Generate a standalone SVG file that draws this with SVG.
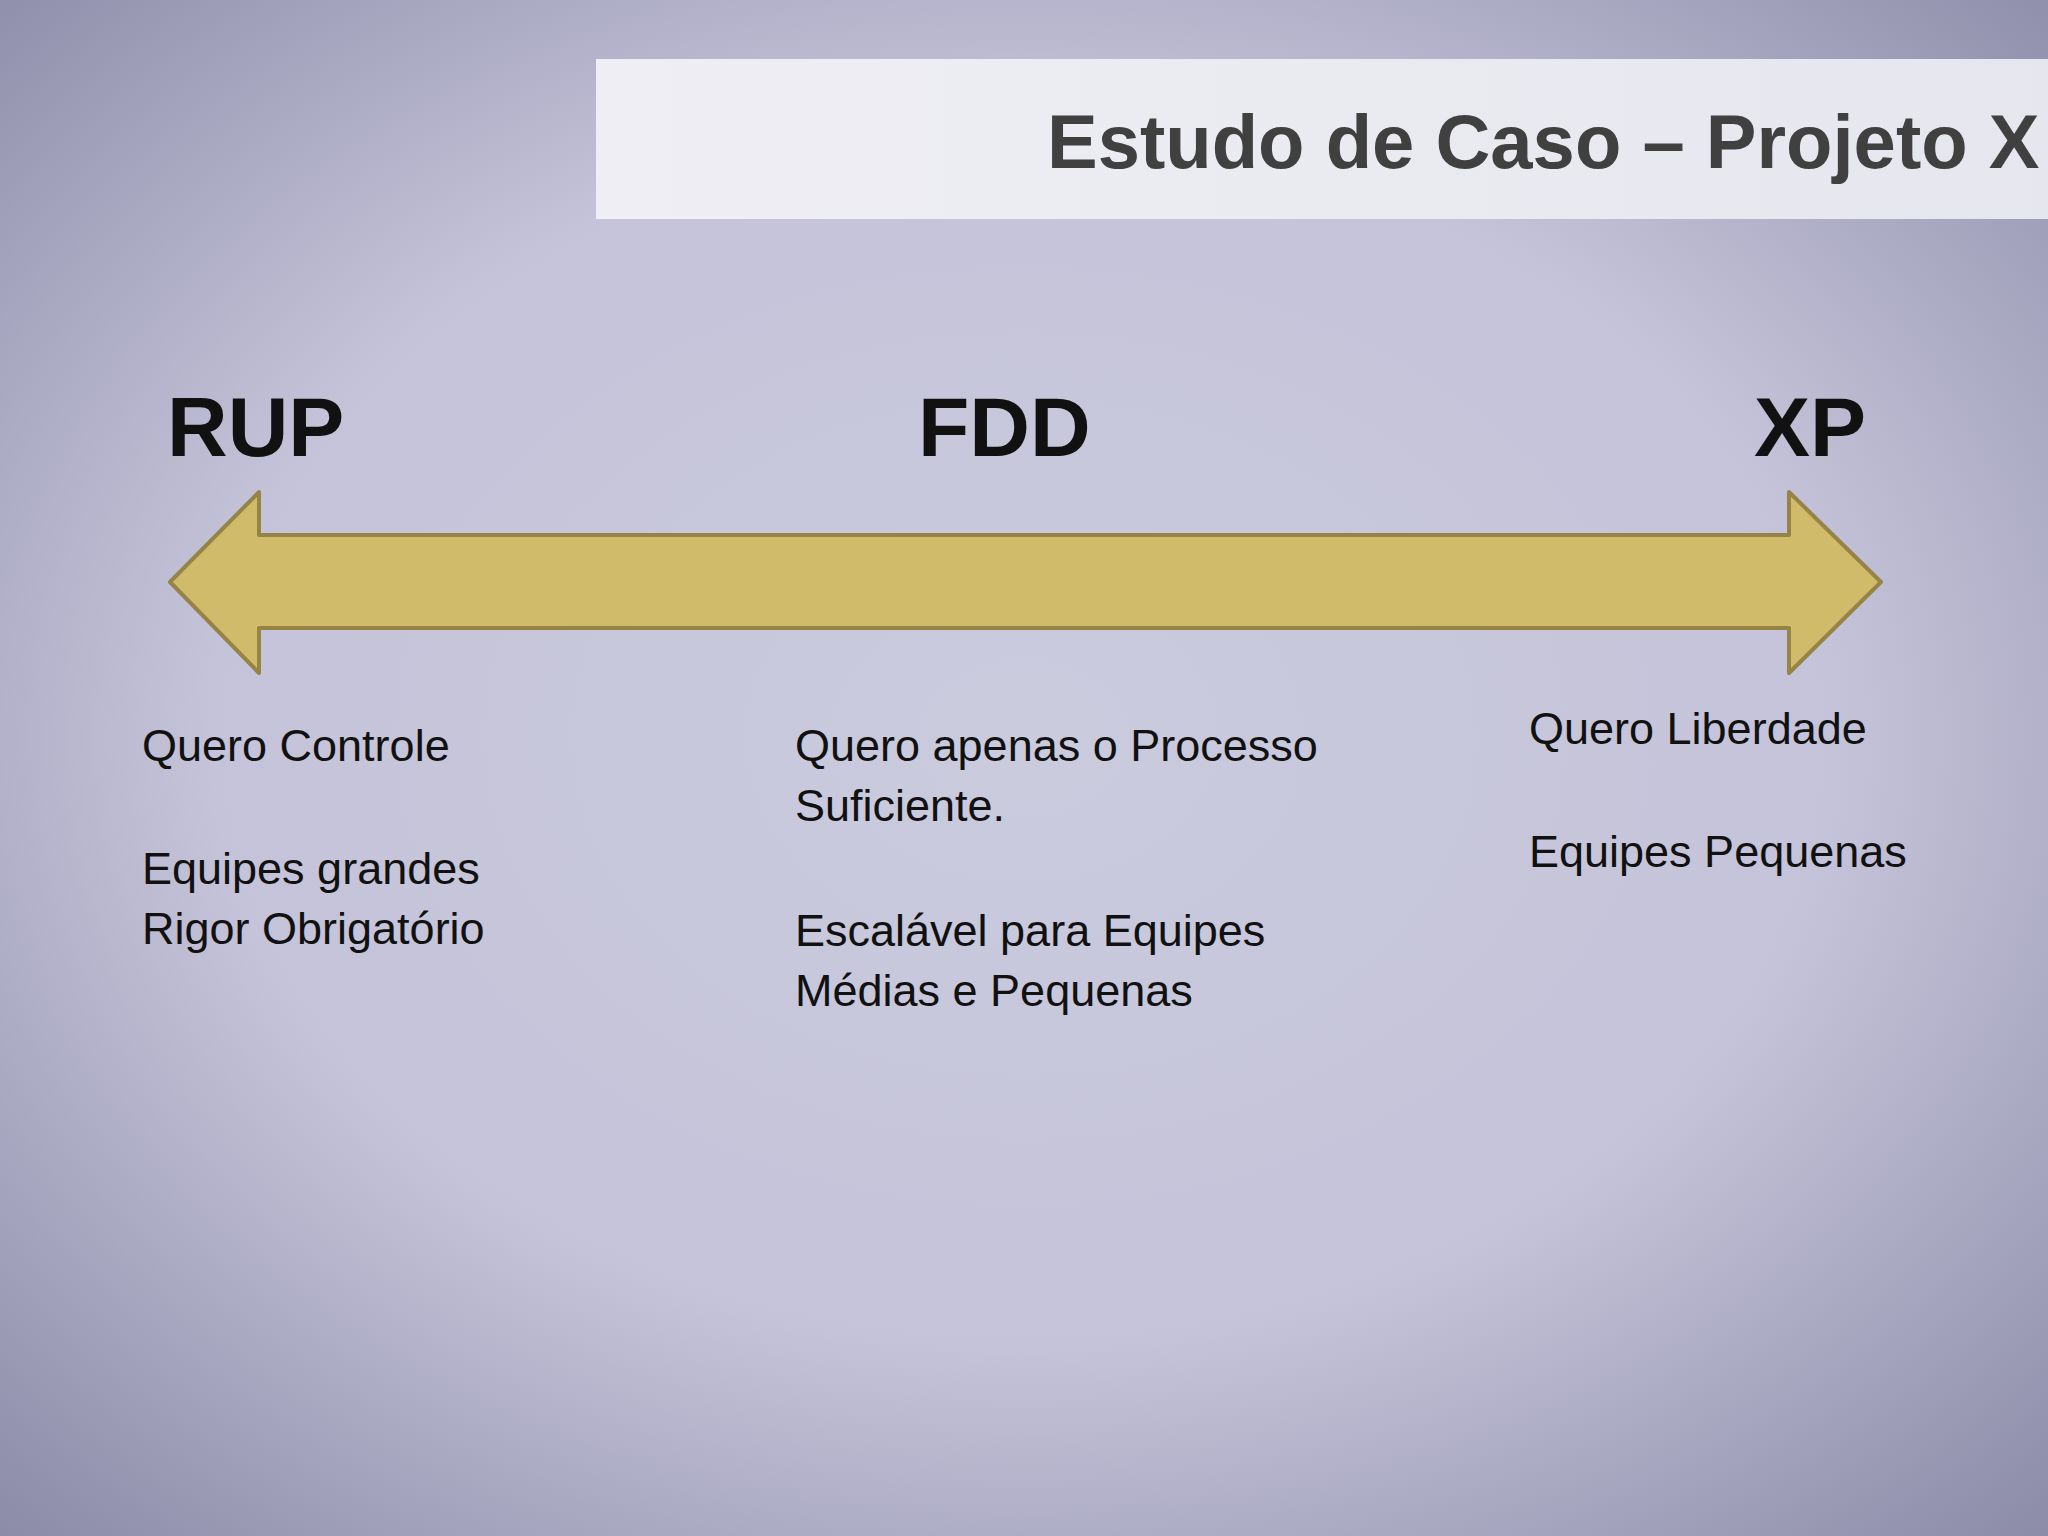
<svg xmlns="http://www.w3.org/2000/svg" width="2048" height="1536" viewBox="0 0 2048 1536">
<defs>
<radialGradient id="bg" cx="50%" cy="48%" r="72%">
<stop offset="0" stop-color="#cbcbde"/>
<stop offset="0.55" stop-color="#c4c3d9"/>
<stop offset="1" stop-color="#8c8ba8"/>
</radialGradient>
<linearGradient id="tb" x1="0" x2="1" y1="0" y2="0">
<stop offset="0" stop-color="#eeeef4"/>
<stop offset="1" stop-color="#e6e6ee"/>
</linearGradient>
</defs>
<style>
.h{font-family:"Liberation Sans",Arial,sans-serif;font-weight:bold;font-size:84px;fill:#111}
.t{font-family:"Liberation Sans",Arial,sans-serif;font-size:45px;fill:#111}
</style>
<rect width="2048" height="1536" fill="url(#bg)"/>
<g id="title">
<rect x="596" y="59" width="1452" height="160" fill="url(#tb)"/>
<text x="1047" y="168" font-family="Liberation Sans,Arial,sans-serif" font-weight="bold" font-size="76" fill="#404040">Estudo de Caso – Projeto X</text>
</g>
<g id="connectors">
<polygon points="170,582 259,492 259,535 1789,535 1789,492 1881,582 1789,673 1789,628 259,628 259,673" fill="#cfbb6a" stroke="#958445" stroke-width="4" stroke-linejoin="round"/>
</g>
<g id="rup">
<text class="h" x="167" y="456">RUP</text>
<text class="t" x="142" y="761">Quero Controle</text>
<text class="t" x="142" y="884">Equipes grandes</text>
<text class="t" x="142" y="944">Rigor Obrigatório</text>
</g>
<g id="fdd">
<text class="h" x="918" y="456">FDD</text>
<text class="t" x="795" y="761">Quero apenas o Processo</text>
<text class="t" x="795" y="821">Suficiente.</text>
<text class="t" x="795" y="946">Escalável para Equipes</text>
<text class="t" x="795" y="1006">Médias e Pequenas</text>
</g>
<g id="xp">
<text class="h" x="1754" y="456">XP</text>
<text class="t" x="1529" y="744">Quero Liberdade</text>
<text class="t" x="1529" y="867">Equipes Pequenas</text>
</g>
</svg>
